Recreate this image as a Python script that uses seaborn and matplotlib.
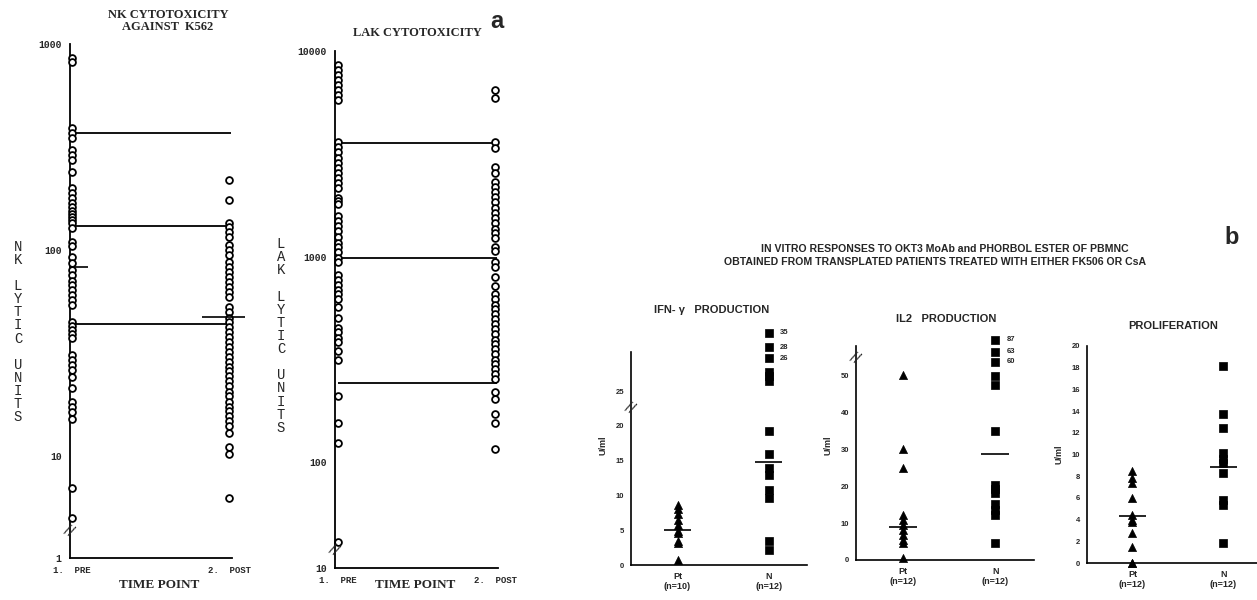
import numpy as np
import pandas as pd
import matplotlib
matplotlib.use("Agg")
import matplotlib.pyplot as plt
import matplotlib.transforms as mtrans
import seaborn as sns

# ---- panel a: lytic units ----
nk_pre = [855, 818, 391, 370, 350, 306, 290, 274, 239, 200, 189, 179, 169, 162,
          155, 150, 145, 140, 135, 128, 109, 105, 93, 87, 80, 76, 71, 67.6, 64,
          60.5, 57, 54, 44.7, 42.8, 40.9, 39.1, 37.4, 30.9, 29.2, 27.7, 26.2,
          24.2, 21.4, 18.3, 17.3, 16.4, 15.1, 7.0, 5.0]
nk_post = [219, 175, 135, 129, 123, 116, 106, 100, 95, 87.5, 82.8, 78, 74, 70,
           66, 62.6, 59, 52.8, 50, 47, 44.7, 42.2, 40, 37.8, 35.8, 33.9, 32,
           30.4, 28.8, 27.2, 25.8, 24.4, 23.1, 21.8, 20.6, 19.5, 18.4, 17.4,
           16.5, 15.6, 14.8, 14.0, 13.0, 11.1, 10.2, 6.25]
nk_ref_lines = [370, 131, 44]
nk_medians = [82.7, 47.3]

lak_pre = [8550, 8090, 7650, 7230, 6840, 6470, 6120, 5790, 3620, 3420, 3240,
           3030, 2860, 2700, 2560, 2420, 2290, 2160, 1930, 1860, 1800, 1570,
           1490, 1410, 1330, 1240, 1170, 1110, 1050, 990, 940, 816, 774, 730,
           690, 655, 620, 572, 506, 452, 428, 404, 383, 346, 316, 209, 156,
           124, 41]
lak_post = [6470, 5910, 3620, 3380, 2740, 2560, 2300, 2180, 2060, 1960, 1840,
            1730, 1630, 1540, 1450, 1370, 1300, 1230, 1120, 1060, 940, 890,
            800, 720, 660, 620, 585, 555, 525, 495, 470, 445, 420, 395, 375,
            355, 335, 316, 300, 285, 270, 255, 219, 203, 171, 156, 116]
lak_ref_lines = [3573, 989, 244]

time_labels = ["1.  PRE", "2.  POST"]

# ---- panel b: U/ml ----
ifn_pt = [8.6, 8.0, 7.3, 6.5, 5.7, 4.9, 4.6, 3.4, 3.2, 0.7]
ifn_n = [33.4, 31.3, 29.7, 27.8, 27.1, 26.5, 19.2, 15.9, 13.9, 12.9, 10.8, 9.6, 3.4, 2.1]
ifn_offscale = ["35", "28", "26"]
ifn_means = [5.1, 14.8]

il2_pt = [50, 30, 25, 12.2, 10.8, 9.5, 8.1, 6.8, 5.4, 4.6, 0.5]
il2_n = [59.6, 56.4, 53.7, 49.7, 47.4, 34.8, 20.3, 19.2, 18.1, 15.2, 13.6, 12.2, 4.7]
il2_offscale = ["87", "63", "60"]
il2_means = [9.0, 28.6]

pro_pt = [8.5, 7.8, 7.4, 6.0, 4.4, 4.0, 3.8, 2.8, 1.5, 0.0, 0.0]
pro_n = [18.2, 13.7, 12.4, 10.1, 9.6, 9.2, 8.3, 5.8, 5.3, 1.8]
pro_means = [4.35, 8.86]

group_labels = {"ifn": ["Pt\n(n=10)", "N\n(n=12)"],
                "il2": ["Pt\n(n=12)", "N\n(n=12)"],
                "pro": ["Pt\n(n=12)", "N\n(n=12)"]}

W, H = 1257, 600
SERIF = "Liberation Serif"
MONO = "Liberation Mono"
SANS = "Liberation Sans"


def broken_log(t, k):
    # log axis, squeezed linearly below t (axis break)
    lt = np.log10(t)

    def fwd(y):
        y = np.asarray(y, dtype=float)
        return np.where(y >= t, np.log10(np.maximum(y, t)), lt - (t - y) * k)

    def inv(u):
        u = np.asarray(u, dtype=float)
        return np.where(u >= lt, 10 ** np.clip(u, lt, 10), t - (lt - u) / k)

    return fwd, inv


def box(x0, x1, ytop, ybot):
    return [x0 / W, 1 - ybot / H, (x1 - x0) / W, (ybot - ytop) / H]


def ftext(x, y, s, **kw):
    fig.text(x / W, 1 - y / H, s, **kw)


def long_df(pre, post):
    return pd.DataFrame({"time": [1] * len(pre) + [2] * len(post),
                         "value": list(pre) + list(post)})


def break_mark(ax, yval):
    tr = mtrans.blended_transform_factory(ax.transAxes, ax.transData)
    ax.text(0, yval, "//", transform=tr, ha="center", va="center",
            fontsize=10, rotation=-25, family="DejaVu Sans")


sns.set_style("white")
plt.rcParams["font.family"] = [SANS, "DejaVu Sans"]

fig = plt.figure(figsize=(W / 100, H / 100), dpi=100)

# ================= panel a =================
lytic_panels = [
    dict(pre=nk_pre, post=nk_post, refs=nk_ref_lines, meds=nk_medians,
         brk=(4, 0.032), ylim=(1, 1000), ticks=[1, 10, 100, 1000],
         rect=box(70, 232, 44, 558), xl=(0.987, 2.019), brk_at=4.4),
    dict(pre=lak_pre, post=lak_post, refs=lak_ref_lines, meds=None,
         brk=(36, 0.0027), ylim=(10, 10000), ticks=[10, 100, 1000, 10000],
         rect=box(335, 498, 51, 568), xl=(0.981, 2.019), brk_at=38),
]
for p in lytic_panels:
    ax = fig.add_axes(p["rect"])
    ax.set_yscale("function", functions=broken_log(*p["brk"]))
    df = long_df(p["pre"], p["post"])
    sns.scatterplot(data=df, x="time", y="value", ax=ax, marker="o", s=24,
                    color="white", edgecolor="black", linewidth=1.3,
                    clip_on=False, zorder=3, legend=False)
    ax.hlines(p["refs"], 1, 2.01, color="black", lw=1.3, zorder=2)
    if p["meds"] is not None:
        ax.hlines(p["meds"][0], 0.9, 1.1, color="black", lw=1.2, zorder=4)
        ax.hlines(p["meds"][1], 1.83, 2.1, color="black", lw=1.2, zorder=4,
                  clip_on=False)
    ax.set_ylim(*p["ylim"])
    ax.set_xlim(*p["xl"])
    lo, hi = p["ylim"]
    minor = [m * 10 ** e for e in range(0, 4) for m in range(2, 10)
             if p["brk"][0] < m * 10 ** e < hi]
    ax.set_yticks(p["ticks"], [str(t) for t in p["ticks"]])
    ax.set_yticks(minor, minor=True)
    ax.set_xticks([1, 2], time_labels)
    ax.tick_params(axis="y", which="major", direction="out", length=4,
                   width=1, labelsize=7, pad=2)
    ax.tick_params(axis="y", which="minor", direction="out", length=2, width=1)
    ax.tick_params(axis="x", direction="out", length=3, width=1,
                   labelsize=6.5, pad=3)
    for lab in ax.get_yticklabels() + ax.get_xticklabels():
        lab.set_family(MONO)
        lab.set_weight("bold")
    for s in ["top", "right"]:
        ax.spines[s].set_visible(False)
    for s in ["left", "bottom"]:
        ax.spines[s].set_linewidth(1.3)
        ax.spines[s].set_color("black")
    ax.set_xlabel("")
    ax.set_ylabel("")
    break_mark(ax, p["brk_at"])

ftext(168, 21, "NK CYTOTOXICITY\nAGAINST  K562", ha="center", va="center",
      family=SERIF, weight="bold", fontsize=9, linespacing=1.05)
ftext(417, 33, "LAK CYTOTOXICITY", ha="center", va="center",
      family=SERIF, weight="bold", fontsize=9)
for xc in (159, 415):
    ftext(xc, 585, "TIME POINT", ha="center", va="center",
          family=SERIF, weight="bold", fontsize=9.5)
ftext(18, 332, "\n".join("NK LYTIC UNITS"), ha="center", va="center",
      family=MONO, fontsize=10, linespacing=0.92)
ftext(281, 336, "\n".join("LAK LYTIC UNITS"), ha="center", va="center",
      family=MONO, fontsize=10, linespacing=0.92)
ftext(497, 22, "a", ha="center", va="center", family=SANS,
      weight="bold", fontsize=17)

# ================= panel b =================
ftext(945, 249, "IN VITRO RESPONSES TO OKT3 MoAb and PHORBOL ESTER OF PBMNC",
      ha="center", va="center", weight="bold", fontsize=7.6)
ftext(935, 262, "OBTAINED FROM TRANSPLATED PATIENTS TREATED WITH EITHER FK506 OR CsA",
      ha="center", va="center", weight="bold", fontsize=7.6)
ftext(1232, 237, "b", ha="center", va="center", weight="bold", fontsize=17)

cyto_panels = [
    dict(key="ifn", pt=ifn_pt, n=ifn_n, off=ifn_offscale, means=ifn_means,
         rect=box(631, 807, 325, 565), ylim=(0, 34.5), spine_top=30.6,
         ticks=[0, 5, 10, 15, 20, 25], xl=(-0.51, 1.42), brk_at=22.7,
         title="IFN- \u03b3   PRODUCTION", tpos=(712, 310)),
    dict(key="il2", pt=il2_pt, n=il2_n, off=il2_offscale, means=il2_means,
         rect=box(856, 1034, 331, 560), ylim=(0, 62), spine_top=58,
         ticks=[0, 10, 20, 30, 40, 50], xl=(-0.51, 1.42), brk_at=55,
         title="IL2   PRODUCTION", tpos=(946, 319)),
    dict(key="pro", pt=pro_pt, n=pro_n, off=[], means=pro_means,
         rect=box(1087, 1257, 346, 563), ylim=(0, 20), spine_top=20,
         ticks=list(range(0, 21, 2)), xl=(-0.5, 1.37), brk_at=None,
         title="PROLIFERATION", tpos=(1173, 326)),
]
for p in cyto_panels:
    ax = fig.add_axes(p["rect"])
    dpt = pd.DataFrame({"grp": 0, "value": p["pt"]})
    dn = pd.DataFrame({"grp": 1, "value": p["n"]})
    sns.scatterplot(data=dpt, x="grp", y="value", ax=ax, marker="^", s=34,
                    color="black", edgecolor="black", linewidth=0.5,
                    clip_on=False, zorder=3, legend=False)
    sns.scatterplot(data=dn, x="grp", y="value", ax=ax, marker="s", s=30,
                    color="black", edgecolor="black", linewidth=0.5,
                    clip_on=False, zorder=3, legend=False)
    for i, m in enumerate(p["means"]):
        ax.hlines(m, i - 0.15, i + 0.15, color="black", lw=1.2, zorder=4)
    for j, lab in enumerate(p["off"]):
        ax.annotate(lab, (1, p["n"][j]), xytext=(8, 0),
                    textcoords="offset points", ha="left", va="center",
                    fontsize=5.5, weight="bold")
    ax.set_xlim(*p["xl"])
    ax.set_ylim(*p["ylim"])
    ax.spines["left"].set_bounds(0, p["spine_top"])
    for s in ["top", "right"]:
        ax.spines[s].set_visible(False)
    for s in ["left", "bottom"]:
        ax.spines[s].set_linewidth(1.2)
        ax.spines[s].set_color("black")
    ax.set_yticks(p["ticks"])
    ax.set_xticks([0, 1], group_labels[p["key"]])
    ax.tick_params(axis="y", direction="out", length=3, width=1,
                   labelsize=5.5, pad=2)
    ax.tick_params(axis="x", length=0, labelsize=6.5, pad=5)
    for lab in ax.get_yticklabels() + ax.get_xticklabels():
        lab.set_weight("bold")
    ax.set_xlabel("")
    ax.set_ylabel("U/ml", fontsize=6.5, weight="bold", labelpad=6)
    if p["brk_at"] is not None:
        break_mark(ax, p["brk_at"])
    ftext(p["tpos"][0], p["tpos"][1], p["title"], ha="center", va="center",
          weight="bold", fontsize=8)

fig.savefig("out.png", dpi=100, facecolor="white")
